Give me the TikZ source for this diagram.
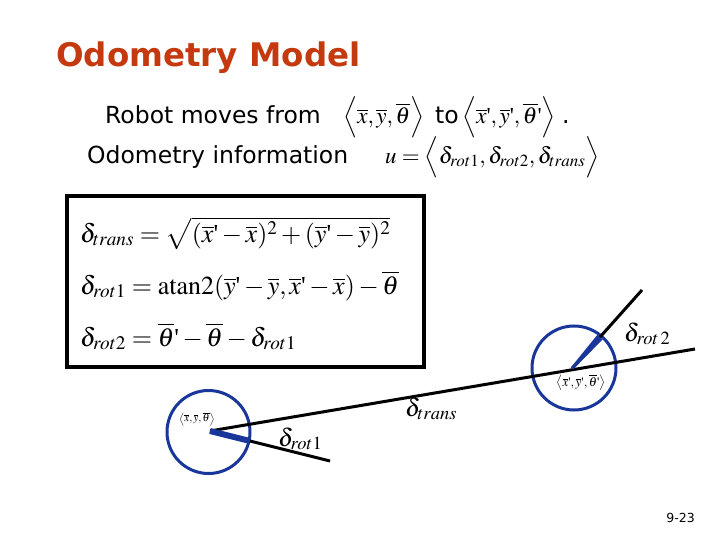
\documentclass[tikz,border=0pt]{standalone}
\usepackage{mathptmx}
\usepackage{fontspec}
\usetikzlibrary{calc}
\newfontfamily\verd{DejaVu Sans}
\newfontfamily\tnr{Liberation Serif}
\newcommand{\qp}{\mbox{\tnr\textquotesingle}}
\newcommand{\ob}[1]{\overline{#1}}
\definecolor{titlered}{RGB}{196,58,14}
\definecolor{rblue}{RGB}{25,55,155}
\begin{document}
\begin{tikzpicture}[x=1pt,y=-1pt,
  title/.style={inner sep=0pt, anchor=base west, text=titlered, font=\verd\bfseries\fontsize{32.5}{38}\selectfont},
  txt/.style={inner sep=0pt, anchor=base west, font=\verd\fontsize{23.5}{28}\selectfont},
  mth/.style={inner sep=0pt, anchor=base west, font=\fontsize{23}{28}\selectfont},
  eq/.style={inner sep=0pt, anchor=base west, font=\fontsize{26}{31}\selectfont},
  lbl/.style={inner sep=0pt, anchor=base west, font=\fontsize{25}{30}\selectfont},
  small/.style={inner sep=0pt, font=\fontsize{11}{13}\selectfont},
  box/.style={draw, line width=4pt, inner sep=0pt, anchor=north west},
  robotc/.style={circle, draw=rblue, line width=3pt, inner sep=0pt},
  ray/.style={line width=3pt, black},
  headfill/.style={fill=rblue, draw=none}
]
\useasboundingbox (0,0) rectangle (720,540);
\fill[white] (0,0) rectangle (720,540);

\node[title] (title) at (56,67) {Odometry Model};

\node[txt] (l1) at (105,123.5) {Robot moves from};
\node[mth] (p1) at (343,123.5) {$\Bigl\langle \ob{x},\ob{y},\ob{\theta}\Bigr\rangle$};
\node[txt] (to) at (435,123.5) {to};
\node[mth] (p2) at (462,123.5) {$\Bigl\langle \ob{x}\qp,\ob{y}\qp,\ob{\theta}\qp\Bigr\rangle$};
\node[txt] (dot) at (562,123.5) {.};

\node[txt] (l2) at (87,163.5) {Odometry information};
\node[mth] (u) at (385,163.5) {$u=\Bigl\langle \delta_{rot1},\delta_{rot2},\delta_{trans}\Bigr\rangle$};

\node[box, minimum width=357pt, minimum height=170.5pt] (frame) at (64.5,194.5) {};
\node[eq] (eq1) at (80,242) {$\delta_{trans}=\sqrt{(\ob{x}\qp-\ob{x})^2+(\ob{y}\qp-\ob{y})^2}$};
\node[eq] (eq2) at (80,294) {$\delta_{rot1}=\mathrm{atan2}(\ob{y}\qp-\ob{y},\ob{x}\qp-\ob{x})-\ob{\theta}$};
\node[eq] (eq3) at (80,346) {$\delta_{rot2}=\ob{\theta}\qp-\ob{\theta}-\delta_{rot1}$};

% robots
\coordinate (r1) at (210,431);
\coordinate (r2) at (572,368.5);
\coordinate (e1) at (695,349);
\coordinate (e2) at (330,461);
\coordinate (e3) at (642,290);
\node[robotc, minimum size=83pt] (c1) at (208.5,432) {};
\node[robotc, minimum size=84pt] (c2) at (574,368) {};

\draw[ray] (r1) -- (e1);
\draw[ray] (r1) -- (e2);
\draw[ray] (r2) -- (e3);

\coordinate (h1) at ($(r1)!41pt!(e2)$);
\coordinate (h2) at ($(r2)!42pt!(e3)$);
\fill[headfill] ($(r1)!3pt!90:(e2)$) -- ($(r1)!3pt!-90:(e2)$) -- ($(h1)!3pt!90:(r1)$) -- ($(h1)!3pt!-90:(r1)$) -- cycle;
\fill[headfill] ($(r2)!1.5pt!90:(e3)$) -- ($(r2)!1.5pt!-90:(e3)$) -- ($(h2)!3.5pt!90:(r2)$) -- ($(h2)!3.5pt!-90:(r2)$) -- cycle;

\node[small] (s1) at (197,419) {$\bigl\langle \ob{x},\ob{y},\ob{\theta}\bigr\rangle$};
\node[small, font=\fontsize{13}{15}\selectfont] (s2) at (581,383) {$\bigl\langle \ob{x}\qp,\ob{y}\qp,\ob{\theta}\qp\bigr\rangle$};

\node[lbl] (d1) at (278,446) {$\delta_{rot1}$};
\node[lbl] (d2) at (405,416) {$\delta_{trans}$};
\node[lbl] (d3) at (624,341) {$\delta_{rot\,2}$};

\node[inner sep=0pt, anchor=base east, font=\verd\fontsize{12.5}{15}\selectfont] (pg) at (695,522) {9-23};
\end{tikzpicture}
\end{document}
